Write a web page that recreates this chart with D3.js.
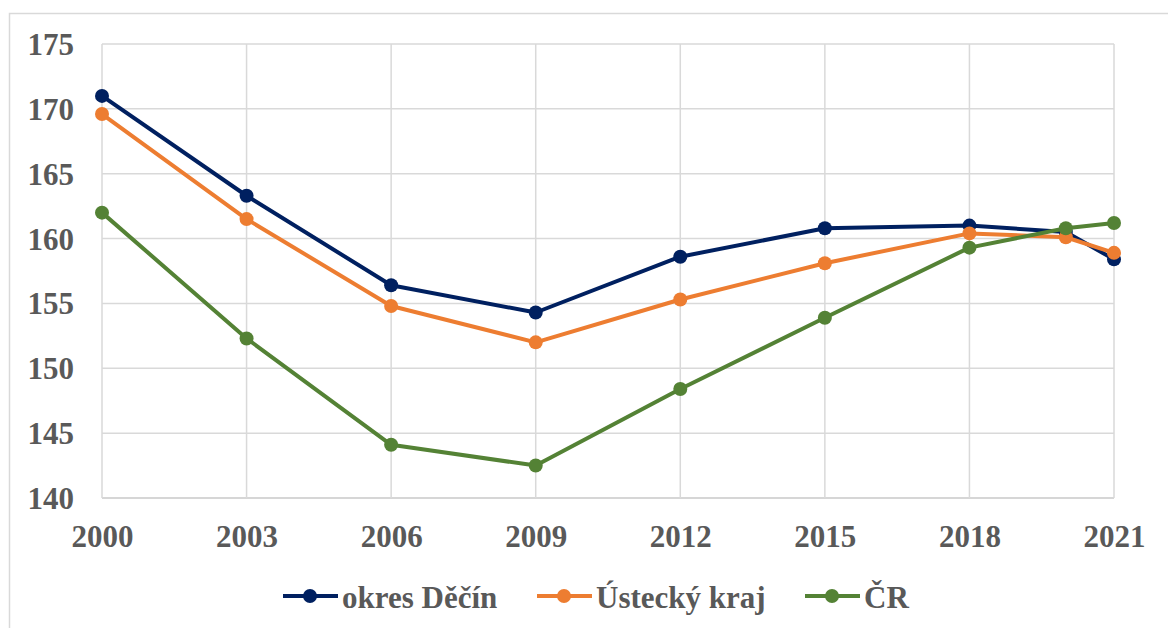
<!DOCTYPE html>
<html>
<head>
<meta charset="utf-8">
<script src="https://cdn.jsdelivr.net/npm/d3@7"></script>
<style>
  html, body { margin: 0; padding: 0; background: #fff; }
  svg { display: block; }
</style>
</head>
<body>
<div id="chart"></div>
<script>
// data
var years = [2000, 2003, 2006, 2009, 2012, 2015, 2018, 2020, 2021];
var tickYears = [2000, 2003, 2006, 2009, 2012, 2015, 2018, 2021];
var yTicks = [140, 145, 150, 155, 160, 165, 170, 175];
var seriesNames = ['okres Děčín', 'Ústecký kraj', 'ČR'];
var decin = [171.0, 163.3, 156.4, 154.3, 158.6, 160.8, 161.0, 160.5, 158.4];
var ustecky = [169.6, 161.5, 154.8, 152.0, 155.3, 158.1, 160.4, 160.1, 158.9];
var cr = [162.0, 152.3, 144.1, 142.5, 148.4, 153.9, 159.3, 160.8, 161.2];
var colors = ['#002060', '#ED7D31', '#548235'];

var W = 1168, H = 628;
var plot = { left: 102, right: 1114, top: 44, bottom: 498 };
var FONT = "'Liberation Serif'";
var TEXT_COLOR = '#595959';

var svg = d3.select('#chart').append('svg')
  .attr('width', W)
  .attr('height', H);

// chart frame (only top/left edges are inside the picture)
svg.append('rect')
  .attr('x', 9.5).attr('y', 13.5)
  .attr('width', W + 20).attr('height', H + 20)
  .attr('fill', 'none')
  .attr('stroke', '#d9d9d9')
  .attr('stroke-width', 1.5);

var x = d3.scaleLinear().domain([2000, 2021]).range([plot.left, plot.right]);
var y = d3.scaleLinear().domain([140, 175]).range([plot.bottom, plot.top]);

// gridlines
var grid = svg.append('g');
grid.selectAll('line.h')
  .data(yTicks)
  .enter().append('line')
  .attr('class', 'h')
  .attr('x1', plot.left).attr('x2', plot.right)
  .attr('y1', function(d) { return y(d); })
  .attr('y2', function(d) { return y(d); })
  .attr('stroke', function(d) { return d === 140 ? '#c8c8c8' : '#d9d9d9'; })
  .attr('stroke-width', 1.5);
grid.selectAll('line.v')
  .data(tickYears)
  .enter().append('line')
  .attr('class', 'v')
  .attr('x1', function(d) { return x(d); })
  .attr('x2', function(d) { return x(d); })
  .attr('y1', plot.top).attr('y2', plot.bottom)
  .attr('stroke', '#d9d9d9')
  .attr('stroke-width', 1.5);

function styleLabels(sel) {
  sel.style('font-family', FONT)
    .style('font-weight', 'bold')
    .style('font-size', '31px')
    .attr('fill', TEXT_COLOR);
}

// y axis labels
var yAxis = svg.append('g')
  .attr('transform', 'translate(' + 74 + ',0)')
  .call(d3.axisLeft(y).tickValues(yTicks).tickSize(0).tickPadding(0));
yAxis.select('.domain').remove();
yAxis.selectAll('text').attr('dy', '0.34em').call(styleLabels);

// x axis labels
var xAxis = svg.append('g')
  .attr('transform', 'translate(0,' + 547 + ')')
  .call(d3.axisBottom(x).tickValues(tickYears).tickFormat(d3.format('d')).tickSize(0).tickPadding(0));
xAxis.select('.domain').remove();
xAxis.selectAll('text').attr('y', 0).attr('dy', 0).call(styleLabels);

var seriesData = [decin, ustecky, cr].map(function(vals, i) {
  return {
    name: seriesNames[i],
    color: colors[i],
    values: vals.map(function(v, j) { return { year: years[j], value: v }; })
  };
});

var line = d3.line()
  .x(function(d) { return x(d.year); })
  .y(function(d) { return y(d.value); });

var series = svg.append('g').selectAll('g')
  .data(seriesData)
  .enter().append('g');

series.append('path')
  .attr('d', function(d) { return line(d.values); })
  .attr('fill', 'none')
  .attr('stroke', function(d) { return d.color; })
  .attr('stroke-width', 4)
  .attr('stroke-linejoin', 'round');

series.selectAll('circle')
  .data(function(d) { return d.values.map(function(v) { return { v: v, color: d.color }; }); })
  .enter().append('circle')
  .attr('cx', function(d) { return x(d.v.year); })
  .attr('cy', function(d) { return y(d.v.value); })
  .attr('r', 7)
  .attr('fill', function(d) { return d.color; });

// legend
var legendX = [283, 537, 805];
var legend = svg.append('g').selectAll('g')
  .data(seriesData)
  .enter().append('g')
  .attr('transform', function(d, i) { return 'translate(' + legendX[i] + ',596)'; });

legend.append('line')
  .attr('x1', 0).attr('x2', 55)
  .attr('stroke', function(d) { return d.color; })
  .attr('stroke-width', 4);
legend.append('circle')
  .attr('cx', 27).attr('r', 7)
  .attr('fill', function(d) { return d.color; });
legend.append('text')
  .attr('x', 59)
  .attr('y', 12)
  .text(function(d) { return d.name; })
  .call(styleLabels);
</script>
</body>
</html>
